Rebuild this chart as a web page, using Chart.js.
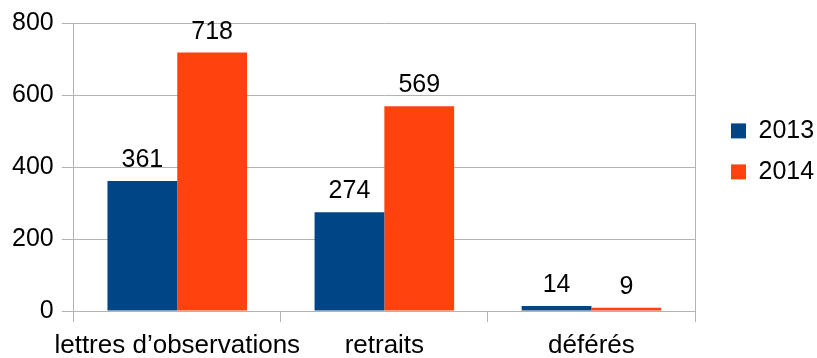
<!DOCTYPE html>
<html>
<head>
<meta charset="utf-8">
<script src="https://cdn.jsdelivr.net/npm/chart.js@4.4.1/dist/chart.umd.min.js"></script>
<style>
  html, body { margin: 0; padding: 0; background: #fff; }
  #wrap { width: 817px; height: 358px; }
</style>
</head>
<body>
<div id="wrap"><canvas id="Grafico"></canvas></div>
<script>
// categories and yearly counts
const categories = ['lettres d\u2019observations', 'retraits', 'déférés'];
const annees = ['2013', '2014'];
const valeurs2013 = [361, 274, 14];
const valeurs2014 = [718, 569, 9];
const yTicks = [0, 200, 400, 600, 800];

const gris = '#b3b3b3';
const famille = '"Liberation Sans", Arial, sans-serif';
const police = { family: famille, size: 25 };

// writes the value above each bar
const etiquettes = {
  id: 'etiquettes',
  afterDatasetsDraw(chart) {
    const ctx = chart.ctx;
    ctx.save();
    ctx.font = police.size + 'px ' + famille;
    ctx.fillStyle = '#000';
    ctx.textAlign = 'center';
    ctx.textBaseline = 'alphabetic';
    chart.data.datasets.forEach((ds, i) => {
      chart.getDatasetMeta(i).data.forEach((bar, j) => {
        ctx.fillText(String(ds.data[j]), bar.x, bar.y - 14);
      });
    });
    ctx.restore();
  }
};

const config = {
  type: 'bar',
  data: {
    labels: categories,
    datasets: [
      { label: annees[0], data: valeurs2013, backgroundColor: '#004586' },
      { label: annees[1], data: valeurs2014, backgroundColor: '#ff420e' }
    ]
  },
  options: {
    responsive: true,
    maintainAspectRatio: false,
    animation: false,
    categoryPercentage: 0.674,
    barPercentage: 1.0,
    layout: { padding: { left: 4, top: 9, bottom: 0, right: 0 } },
    plugins: {
      tooltip: { enabled: false },
      legend: {
        position: 'right',
        align: 'start',
        maxWidth: 102,
        title: { display: true, text: '', padding: { top: 79, bottom: 0 } },
        labels: {
          boxWidth: 15,
          boxHeight: 15,
          padding: 16,
          color: '#000',
          font: police
        }
      }
    },
    scales: {
      x: {
        grid: { offset: true, drawOnChartArea: false, tickLength: 11, color: gris, tickColor: gris },
        border: { color: gris },
        ticks: { color: '#000', font: { family: famille, size: 26 }, padding: 8, autoSkip: false, maxRotation: 0 },
        afterFit: s => { s.height = 47; }
      },
      y: {
        min: 0,
        max: 800,
        afterBuildTicks: s => { s.ticks = yTicks.map(v => ({ value: v })); },
        grid: { color: gris, tickLength: 12 },
        border: { color: gris },
        ticks: { color: '#000', font: police, padding: 8 }
      },
      // empty axis: right frame line + gap before the legend
      droite: {
        type: 'linear',
        position: 'right',
        grid: { drawOnChartArea: false, drawTicks: false },
        border: { color: gris },
        ticks: { display: false },
        afterFit: s => { s.width = 20; }
      }
    }
  },
  plugins: [etiquettes]
};

const myChart = new Chart(document.getElementById('Grafico'), config);
</script>
</body>
</html>
